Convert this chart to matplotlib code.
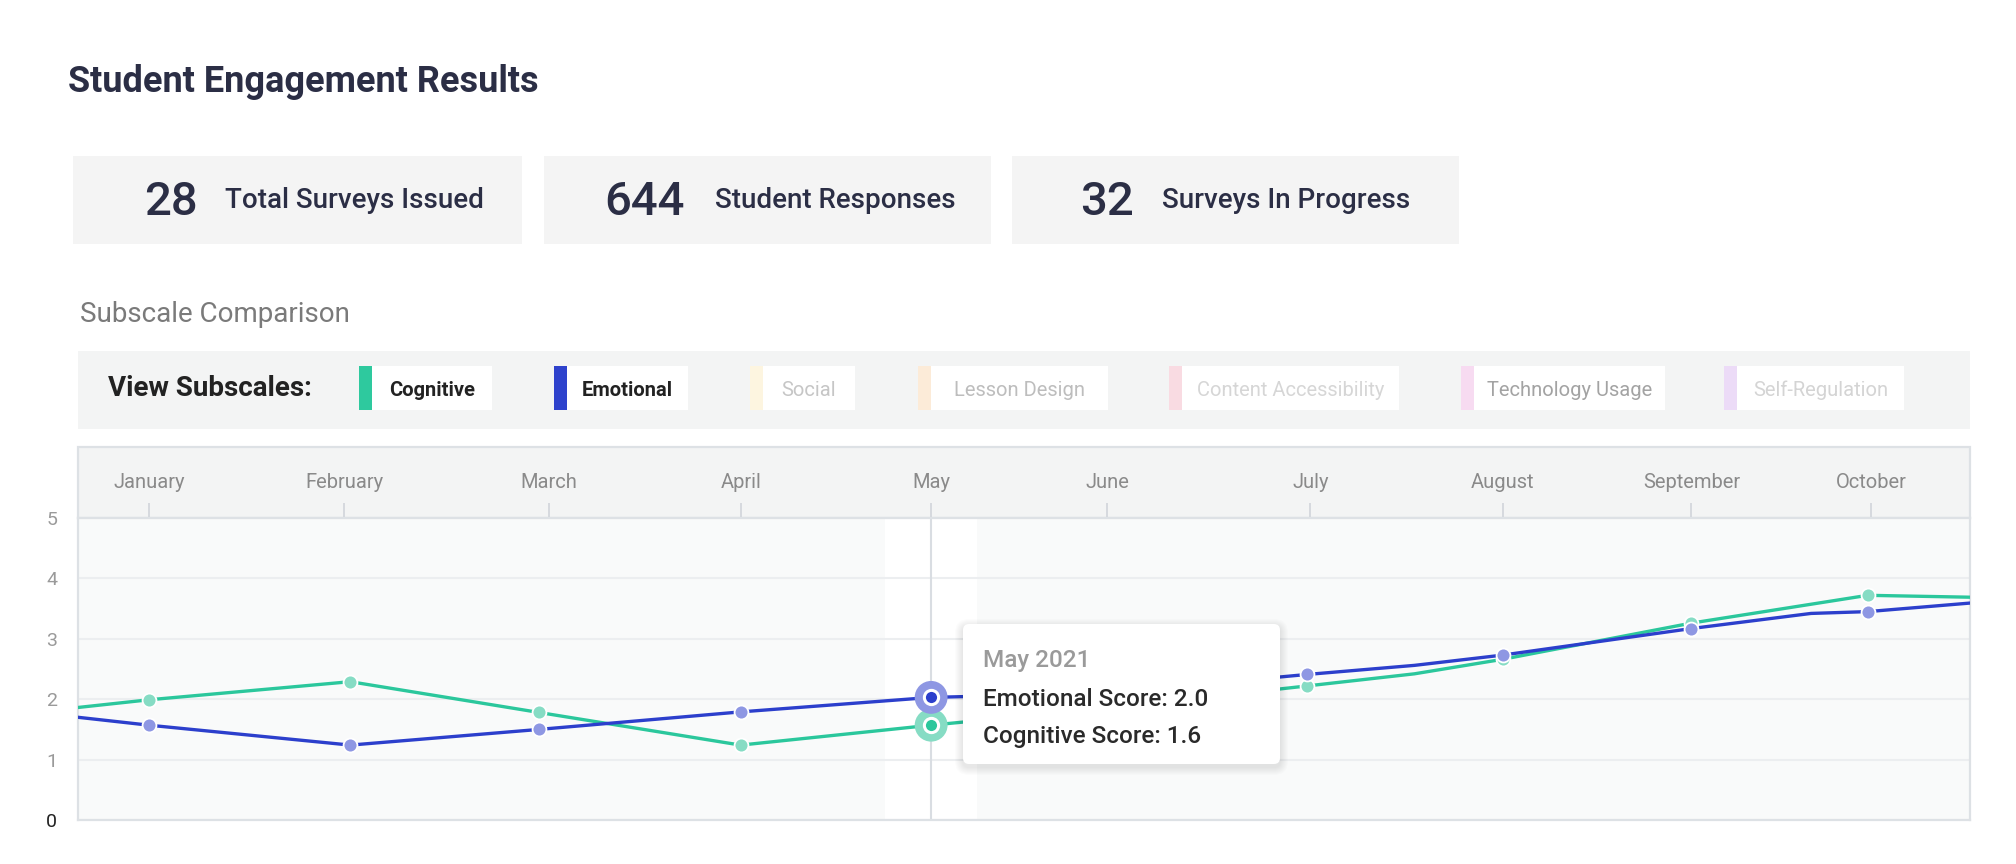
import matplotlib
matplotlib.use("Agg")
import matplotlib.pyplot as plt
import matplotlib.dates as mdates
import numpy as np
from matplotlib.patches import Rectangle, FancyBboxPatch

plt.rcParams['font.family'] = ['Roboto', 'DejaVu Sans']

# ---- data -------------------------------------------------------------
TITLE = "Student Engagement Results"
STAT_VALUES = [28, 644, 32]
STAT_LABELS = ["Total Surveys Issued", "Student Responses", "Surveys In Progress"]

SECTION = "Subscale Comparison"
SUBSCALES = ["Cognitive", "Emotional", "Social", "Lesson Design",
             "Content Accessibility", "Technology Usage", "Self-Regulation"]
SUBSCALE_ON = [True, True, False, False, False, False, False]

MONTHS = ["January", "February", "March", "April", "May", "June",
          "July", "August", "September", "October"]
MONTH_TICKS = ["2021-01-01", "2021-02-01", "2021-03-05 12:00", "2021-04-05",
               "2021-05-05 06:00", "2021-06-02 06:00", "2021-07-04 12:00",
               "2021-08-04", "2021-09-03", "2021-10-01 12:00"]
SURVEY_DATES = ["2021-01-01", "2021-02-02", "2021-03-04", "2021-04-05",
                "2021-05-05 06:00", "2021-06-02", "2021-07-04", "2021-08-04",
                "2021-09-03", "2021-10-01"]

COG_DATES = ["2020-12-01", "2021-01-01", "2021-02-02", "2021-03-04",
             "2021-04-05", "2021-05-05 06:00", "2021-06-02", "2021-07-04",
             "2021-07-21", "2021-08-04", "2021-09-03", "2021-10-01",
             "2021-11-01"]
COG_SCORES = [1.64, 1.99, 2.29, 1.78, 1.24, 1.57, 1.85, 2.22,
              2.42, 2.66, 3.26, 3.72, 3.66]

EMO_DATES = ["2020-12-01", "2021-01-01", "2021-02-02", "2021-03-04",
             "2021-04-05", "2021-05-05 06:00", "2021-06-02", "2021-07-04",
             "2021-07-21", "2021-08-04", "2021-09-03", "2021-09-22",
             "2021-10-01", "2021-11-01"]
EMO_SCORES = [1.93, 1.57, 1.24, 1.50, 1.79, 2.03, 2.10, 2.41,
              2.56, 2.73, 3.17, 3.42, 3.45, 3.72]

HOVER_MONTH = "May"
HOVER_YEAR = 2021
X_RANGE = ["2020-12-20 18:00", "2021-10-17 06:00"]
Y_TICKS = [0, 1, 2, 3, 4, 5]

# ---- style / layout -----------------------------------------------------
W, H = 2016, 864
NAVY = '#2b2e45'
GREEN = '#2bc79c'
BLUE = '#2c3fcc'
GREEN_LIGHT = '#86dcc4'
BLUE_LIGHT = '#8e97e3'
CHIP_COLORS = ['#2ec99e', '#2e42cc', '#fdf5e0', '#fcebd8', '#f9dbe2',
               '#f7dbf1', '#ecdbf7']
CHIP_TEXT = ['#222222', '#222222', '#c6c6c6', '#bdbdbd', '#d6d6d6',
             '#a3a3a3', '#d4d4d4']
CHIP_X = [359, 554, 750, 918, 1169, 1461, 1724]
CHIP_W = [133, 134, 105, 190, 230, 204, 180]
CARD_X = [73, 544, 1012]
CARD_W = [449, 447, 447]
NUM_X = [144, 604, 1080]
LAB_X = [225, 715, 1162]

PLOT_L, PLOT_R, PLOT_T, PLOT_B, HEAD_T = 78, 1970, 518, 820, 447


def to_num(dates):
    return mdates.date2num(np.array(dates, dtype='datetime64[m]'))


fig = plt.figure(figsize=(W / 100, H / 100), dpi=100)
fig.patch.set_facecolor('white')

bg = fig.add_axes([0, 0, 1, 1], zorder=0)
bg.set_xlim(0, W)
bg.set_ylim(H, 0)
bg.axis('off')

bg.text(68, 82, TITLE, fontsize=26, fontweight='bold', color=NAVY,
        va='center', ha='left')

for i in range(3):
    bg.add_patch(Rectangle((CARD_X[i], 156), CARD_W[i], 88,
                           facecolor='#f4f4f4', edgecolor='none'))
    bg.text(NUM_X[i], 202, str(STAT_VALUES[i]), fontsize=34, color=NAVY,
            fontweight='medium', va='center', ha='left')
    bg.text(LAB_X[i], 200, STAT_LABELS[i], fontsize=20, color=NAVY,
            fontweight='medium', va='center', ha='left')

bg.text(80, 314, SECTION, fontsize=20, color='#7a7a7a', va='center')

bg.add_patch(Rectangle((PLOT_L, 351), PLOT_R - PLOT_L, 78,
                       facecolor='#f3f4f4', edgecolor='none'))
bg.text(108, 389, "View Subscales:", fontsize=20, fontweight='bold',
        color='#222222', va='center')
for i, name in enumerate(SUBSCALES):
    x0, w = CHIP_X[i], CHIP_W[i]
    bg.add_patch(Rectangle((x0, 366), w, 44, facecolor='white',
                           edgecolor='none'))
    bg.add_patch(Rectangle((x0, 366), 13, 44, facecolor=CHIP_COLORS[i],
                           edgecolor='none'))
    bg.text(x0 + 13 + (w - 13) / 2, 390, name, fontsize=14.5,
            fontweight='bold' if SUBSCALE_ON[i] else 'normal',
            color=CHIP_TEXT[i], ha='center', va='center')

# header band of the chart
bg.add_patch(Rectangle((PLOT_L, HEAD_T), PLOT_R - PLOT_L, PLOT_T - HEAD_T,
                       facecolor='#f3f4f4', edgecolor='#dde1e5', lw=1.6))

# ---- chart ----------------------------------------------------------------
ax = fig.add_axes([PLOT_L / W, (H - PLOT_B) / H, (PLOT_R - PLOT_L) / W,
                   (PLOT_B - PLOT_T) / H], zorder=1)
ax.set_facecolor('#f9fafa')

cx, cy = to_num(COG_DATES), np.array(COG_SCORES)
ex, ey = to_num(EMO_DATES), np.array(EMO_SCORES)
tick_x = to_num(MONTH_TICKS)
survey_x = to_num(SURVEY_DATES)
hover = MONTHS.index(HOVER_MONTH)
hx = survey_x[hover]

ax.axvspan(hx - 7.3, hx + 7.3, color='white', zorder=0.5, lw=0)
ax.axvline(hx, color='#d9dde2', lw=1.5, zorder=1)

ax.plot(cx, cy, color=GREEN, lw=2.4, zorder=3, solid_capstyle='round')
ax.plot(ex, ey, color=BLUE, lw=2.4, zorder=3.5, solid_capstyle='round')

for xs, ys, col, z in [(cx, cy, GREEN_LIGHT, 4), (ex, ey, BLUE_LIGHT, 4.5)]:
    keep = np.isin(xs, survey_x) & (xs != hx)
    ax.scatter(xs[keep], ys[keep], s=100, facecolor=col, edgecolor='white',
               linewidth=1.3, zorder=z)

cog_h = cy[np.isclose(cx, hx)][0]
emo_h = ey[np.isclose(ex, hx)][0]
for val, light, dark in [(cog_h, GREEN_LIGHT, GREEN), (emo_h, BLUE_LIGHT, BLUE)]:
    ax.scatter([hx], [val], s=560, facecolor=light, edgecolor='none', zorder=5)
    ax.scatter([hx], [val], s=105, facecolor=dark, edgecolor='white',
               linewidth=2.2, zorder=6)

ax.set_xlim(to_num(X_RANGE))
ax.set_ylim(0, 5)
ax.set_yticks(Y_TICKS)
ax.set_yticklabels([str(t) for t in Y_TICKS])
for lab, t in zip(ax.get_yticklabels(), Y_TICKS):
    lab.set_color('#222222' if t == 0 else '#9a9a9a')
ax.tick_params(axis='y', length=0, pad=15, labelsize=14)

ax.xaxis.tick_top()
ax.set_xticks(tick_x)
ax.set_xticklabels(MONTHS)
ax.tick_params(axis='x', direction='out', length=11, width=1.3,
               color='#d3d7dc', labelcolor='#8a8a8a', labelsize=14.5, pad=8)

ax.yaxis.grid(True, color='#eceef0', lw=1.5)
ax.set_axisbelow(True)
for sp in ax.spines.values():
    sp.set_color('#dde1e5')
    sp.set_linewidth(1.6)

# ---- tooltip --------------------------------------------------------------
ov = fig.add_axes([0, 0, 1, 1], zorder=2)
ov.set_xlim(0, W)
ov.set_ylim(H, 0)
ov.axis('off')
ov.patch.set_alpha(0)

tx, ty, tw, th = 963, 624, 317, 140
for k in range(8, 0, -1):
    ov.add_patch(FancyBboxPatch((tx - k, ty - k + 3), tw + 2 * k, th + 2 * k,
                                boxstyle="round,pad=0,rounding_size=%d" % (6 + k),
                                facecolor='black', alpha=0.012, edgecolor='none'))
ov.add_patch(FancyBboxPatch((tx, ty), tw, th,
                            boxstyle="round,pad=0,rounding_size=6",
                            facecolor='white', edgecolor='none'))
ov.text(tx + 20, 660, f"{HOVER_MONTH} {HOVER_YEAR}", fontsize=17.5,
        color='#9a9a9a', fontweight='medium', va='center')
ov.text(tx + 20, 699, f"Emotional Score: {emo_h:.1f}", fontsize=17.5,
        color='#2a2a2a', fontweight='medium', va='center')
ov.text(tx + 20, 736, f"Cognitive Score: {cog_h:.1f}", fontsize=17.5,
        color='#2a2a2a', fontweight='medium', va='center')

fig.savefig("out.png", dpi=100, facecolor='white')
